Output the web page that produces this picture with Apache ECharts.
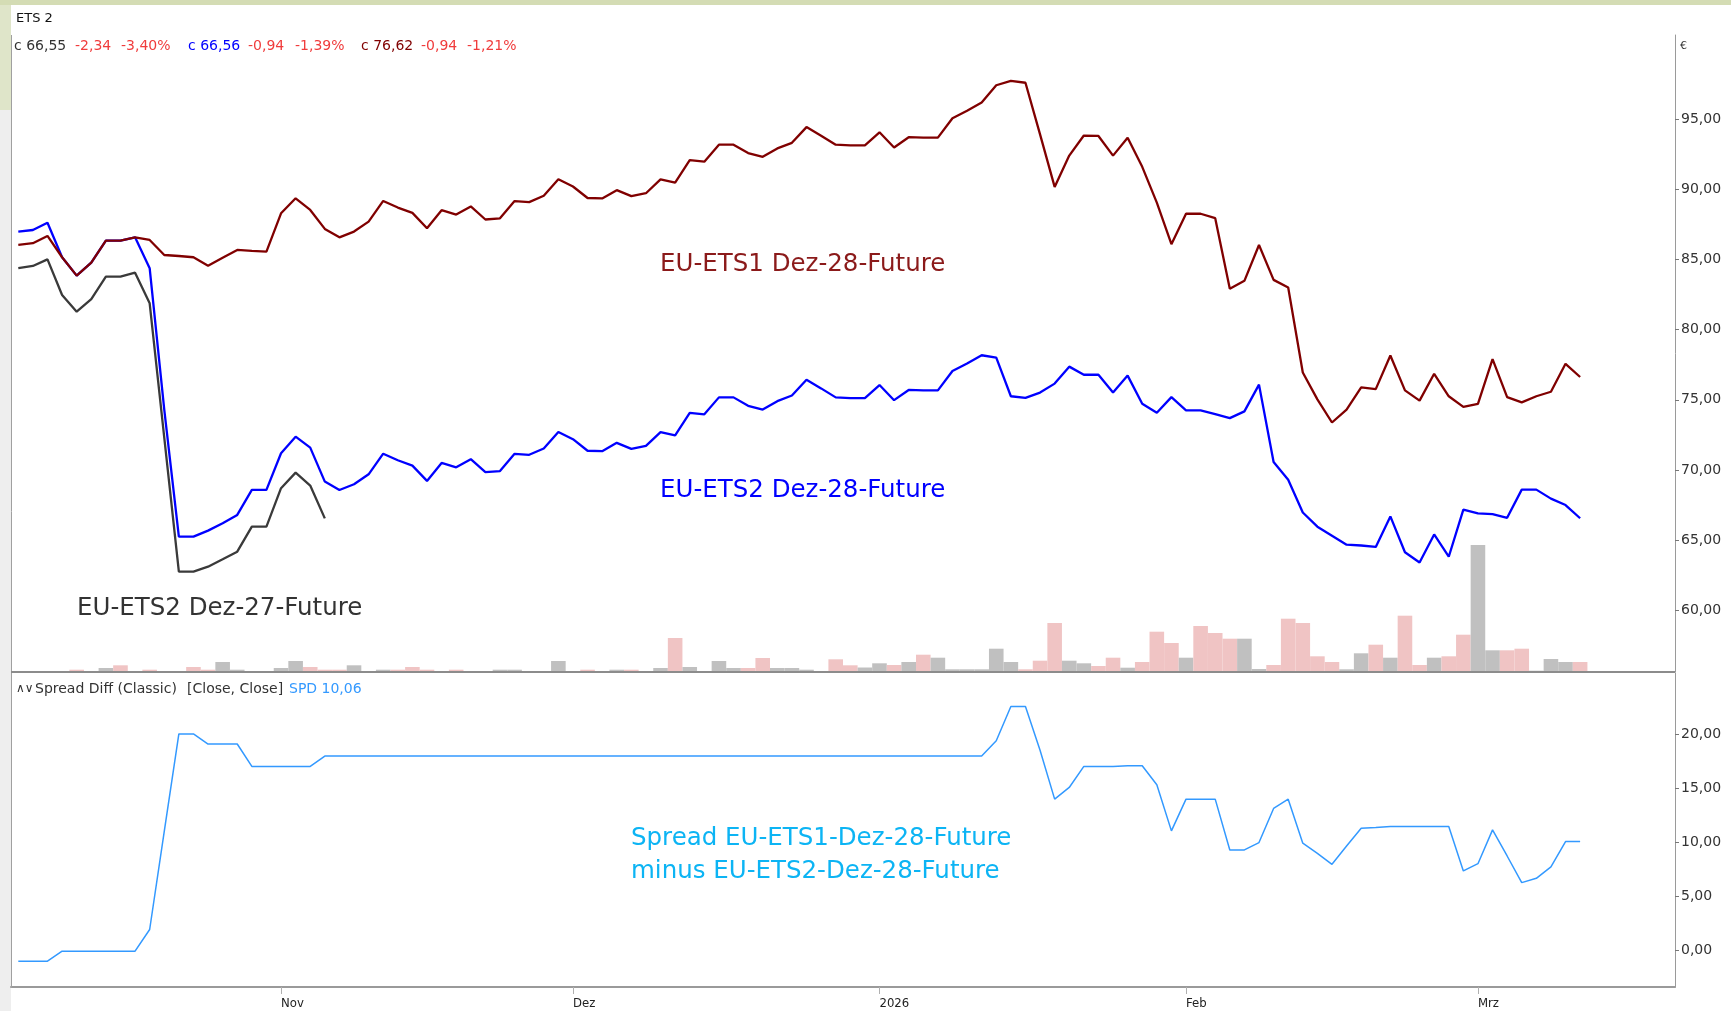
<!DOCTYPE html>
<html><head><meta charset="utf-8">
<script src="https://cdn.jsdelivr.net/npm/echarts@6/dist/echarts.min.js"></script>
<style>html,body{margin:0;padding:0;background:#fff;overflow:hidden}#c{width:1731px;height:1011px;}</style>
</head><body><div id="c"></div>
<script>
// ---- trading days (category axis) ----
const dates = [
'2025-10-08','2025-10-09','2025-10-10','2025-10-13','2025-10-14','2025-10-15','2025-10-16','2025-10-17','2025-10-20','2025-10-21',
'2025-10-22','2025-10-23','2025-10-24','2025-10-27','2025-10-28','2025-10-29','2025-10-30','2025-10-31','2025-11-03','2025-11-04',
'2025-11-05','2025-11-06','2025-11-07','2025-11-10','2025-11-11','2025-11-12','2025-11-13','2025-11-14','2025-11-17','2025-11-18',
'2025-11-19','2025-11-20','2025-11-21','2025-11-24','2025-11-25','2025-11-26','2025-11-27','2025-11-28','2025-12-01','2025-12-02',
'2025-12-03','2025-12-04','2025-12-05','2025-12-08','2025-12-09','2025-12-10','2025-12-11','2025-12-12','2025-12-15','2025-12-16',
'2025-12-17','2025-12-18','2025-12-19','2025-12-22','2025-12-23','2025-12-24','2025-12-29','2025-12-30','2025-12-31','2026-01-02',
'2026-01-05','2026-01-06','2026-01-07','2026-01-08','2026-01-09','2026-01-12','2026-01-13','2026-01-14','2026-01-15','2026-01-16',
'2026-01-19','2026-01-20','2026-01-21','2026-01-22','2026-01-23','2026-01-26','2026-01-27','2026-01-28','2026-01-29','2026-01-30',
'2026-02-02','2026-02-03','2026-02-04','2026-02-05','2026-02-06','2026-02-09','2026-02-10','2026-02-11','2026-02-12','2026-02-13',
'2026-02-16','2026-02-17','2026-02-18','2026-02-19','2026-02-20','2026-02-23','2026-02-24','2026-02-25','2026-02-26','2026-02-27',
'2026-03-02','2026-03-03','2026-03-04','2026-03-05','2026-03-06','2026-03-09','2026-03-10','2026-03-11','2026-03-12','2026-03-13',
'2026-03-16','2026-03-17','2026-03-18','2026-03-19'];

// EU-ETS1 Dez-28-Future (dark red)
const ets1Dec28 = [
86.03,86.15,86.67,85.15,83.84,84.77,86.33,86.33,86.57,86.38,
85.31,85.24,85.15,84.55,85.12,85.67,85.60,85.55,88.28,89.35,
88.52,87.17,86.57,86.98,87.69,89.16,88.69,88.31,87.22,88.50,
88.19,88.77,87.84,87.92,89.15,89.08,89.53,90.70,90.19,89.37,
89.34,89.93,89.50,89.71,90.70,90.46,92.07,91.96,93.17,93.17,
92.57,92.30,92.90,93.30,94.42,93.81,93.17,93.12,93.12,94.05,
92.97,93.70,93.67,93.67,95.05,95.58,96.17,97.40,97.71,97.58,
93.90,90.16,92.39,93.82,93.79,92.39,93.66,91.59,89.04,86.08,
88.25,88.25,87.93,82.90,83.47,86.02,83.54,83.00,76.94,75.03,
73.38,74.30,75.89,75.76,78.15,75.67,74.94,76.85,75.25,74.49,
74.71,77.90,75.19,74.81,75.25,75.57,77.56,76.62];

// EU-ETS2 Dez-28-Future (blue)
const ets2Dec28 = [
86.97,87.09,87.61,85.15,83.84,84.77,86.33,86.33,86.57,84.37,
74.30,65.25,65.25,65.68,66.20,66.80,68.58,68.58,71.19,72.37,
71.59,69.17,68.57,68.98,69.69,71.16,70.69,70.31,69.22,70.50,
70.19,70.77,69.84,69.92,71.15,71.08,71.53,72.70,72.19,71.37,
71.34,71.93,71.50,71.71,72.70,72.46,74.07,73.96,75.17,75.17,
74.57,74.30,74.90,75.30,76.42,75.81,75.17,75.12,75.12,76.05,
74.97,75.70,75.67,75.67,77.05,77.58,78.17,78.00,75.25,75.13,
75.51,76.15,77.36,76.78,76.78,75.51,76.72,74.71,74.08,75.19,
74.24,74.24,73.98,73.69,74.17,76.08,70.57,69.30,66.97,65.96,
65.32,64.68,64.62,64.52,66.69,64.14,63.41,65.41,63.82,67.17,
66.91,66.85,66.59,68.60,68.60,67.96,67.50,66.56];

// EU-ETS2 Dez-27-Future (dark grey), data ends 2025-11-06
const ets2Dec27 = [
84.37,84.53,85.00,82.46,81.27,82.16,83.77,83.77,84.05,81.87,
72.30,62.76,62.76,63.11,63.64,64.18,65.96,65.96,68.70,69.81,
68.89,66.55];

// Spread EU-ETS1 Dez-28 minus EU-ETS2 Dez-28
const spread = [
-0.99,-0.99,-0.99,-0.06,-0.06,-0.06,-0.06,-0.06,-0.06,1.94,
11.00,20.00,20.00,19.07,19.07,19.07,17.00,17.00,17.00,17.00,
17.00,17.96,17.96,17.96,17.96,17.96,17.96,17.96,17.96,17.96,
17.96,17.96,17.96,17.96,17.96,17.96,17.96,17.96,17.96,17.96,
17.96,17.96,17.96,17.96,17.96,17.96,17.96,17.96,17.96,17.96,
17.96,17.96,17.96,17.96,17.96,17.96,17.96,17.96,17.96,17.96,
17.96,17.96,17.96,17.96,17.96,17.96,17.96,19.38,22.53,22.53,
18.50,13.98,15.06,17.00,17.00,17.00,17.07,17.07,15.31,11.05,
13.98,13.98,13.98,9.29,9.29,9.97,13.12,13.98,9.91,8.98,
7.96,9.66,11.30,11.36,11.45,11.45,11.45,11.45,11.45,7.35,
8.02,11.14,8.73,6.27,6.67,7.72,10.06,10.06];

// Volume (relative units) and up(1)/down(0) flag per day
const volume = [
0,0,0,0,2.3,0,4,6.7,0,2.3,
0,0,5,2.3,10,2.3,0,0,4,11,
5,2.3,2.3,6.7,0,2.3,2.3,5,2.3,0,
2.3,0,0,2.3,2.3,0,0,11,0,2.3,
0,2.3,2.3,0,4,34,5,0,11,4,
4,14,4,4,2.3,0,12.7,6.7,4.5,8.7,
7,10,17.3,14.3,2.7,2.7,2.7,23.3,10,2.7,
11.3,49,11.3,8.7,6,14.3,4.3,10,40.3,29,
14.3,46,39,33.3,33.3,3,7,53.3,49,15.7,
10,2.7,18.7,27.3,14.3,56.3,7,14.3,15.7,37.3,
127,21.7,21.7,23.3,1.3,13,10,10];
const volumeUp = [
0,0,0,0,0,0,1,0,0,0,
0,0,0,0,1,1,0,0,1,1,
0,0,0,1,0,1,0,0,0,0,
0,0,0,1,1,0,0,1,0,0,
0,1,0,0,1,0,1,0,1,1,
0,0,1,1,1,0,0,0,1,1,
0,1,0,1,1,1,1,1,1,0,
0,0,1,1,0,0,1,0,0,0,
1,0,0,0,1,1,0,0,0,0,
0,1,1,0,1,0,0,1,0,0,
1,1,0,0,1,1,1,0];

const priceTicks = [60,65,70,75,80,85,90,95];
const spreadTicks = [0,5,10,15,20];
const monthNames = ['Jan','Feb','Mrz','Apr','Mai','Jun','Jul','Aug','Sep','Okt','Nov','Dez'];

function isMonthStart(i){ return i>0 && i<dates.length && dates[i].slice(5,7)!==dates[i-1].slice(5,7); }
function monthLabel(i){ const m=+dates[i].slice(5,7); return m===1 ? dates[i].slice(0,4) : monthNames[m-1]; }
const fmt = v => Number(v).toFixed(2).replace('.', ',');

const FONT = '"DejaVu Sans", Verdana, sans-serif';
const AXC = '#9a9a9a';
const GL = 11, GW = 1664;

const chart = echarts.init(document.getElementById('c'), null, {renderer:'canvas'});

function txt(t, x, y, size, color, extra){
  return Object.assign({type:'text', z:50, silent:true, style:{text:t, x:x, y:y, fill:color,
    font: size+'px '+FONT, verticalAlign:'middle', align:'left'}}, extra||{});
}

const header = [
  ['c 66,55', 14, '#333333'], ['-2,34', 75, '#f03c3c'], ['-3,40%', 121, '#f03c3c'],
  ['c 66,56', 188, '#0000ff'], ['-0,94', 248, '#f03c3c'], ['-1,39%', 295, '#f03c3c'],
  ['c 76,62', 361, '#800000'], ['-0,94', 421, '#f03c3c'], ['-1,21%', 467, '#f03c3c']
];

const option = {
  animation: false,
  backgroundColor: '#ffffff',
  grid: [
    {left: GL, width: GW, top: 35, height: 637},
    {left: GL, width: GW, top: 472, height: 200},
    {left: GL, width: GW, top: 673, height: 314}
  ],
  xAxis: [
    {type:'category', gridIndex:0, data:dates, show:false},
    {type:'category', gridIndex:1, data:dates, show:false},
    {type:'category', gridIndex:2, data:dates, position:'bottom',
     axisLine:{show:true, onZero:false, lineStyle:{color:AXC, width:2}},
     axisTick:{show:true, alignWithLabel:true, length:7, interval:(i)=>isMonthStart(i), lineStyle:{color:'#b0b0b0'}},
     axisLabel:{show:true, interval:(i)=>isMonthStart(i), formatter:(v,i)=>monthLabel(i), align:'left', margin:10,
       fontFamily:'"DejaVu Sans Condensed", "Liberation Sans Narrow", "DejaVu Sans", sans-serif', fontSize:13, color:'#222'},
     splitLine:{show:false}}
  ],
  yAxis: [
    {type:'value', gridIndex:0, position:'right', min:55.61, max:100.98,
     axisLine:{show:true, lineStyle:{color:AXC, width:1}},
     axisTick:{show:true, customValues:priceTicks, length:4, lineStyle:{color:'#777'}},
     axisLabel:{show:true, customValues:priceTicks, formatter:fmt, margin:6, fontFamily:FONT, fontSize:14, color:'#333'},
     splitLine:{show:false}},
    {type:'value', gridIndex:1, min:0, max:200, show:false, splitLine:{show:false}},
    {type:'value', gridIndex:2, position:'right', min:-3.37, max:25.63,
     axisLine:{show:true, lineStyle:{color:AXC, width:1}},
     axisTick:{show:true, customValues:spreadTicks, length:4, lineStyle:{color:'#777'}},
     axisLabel:{show:true, customValues:spreadTicks, formatter:fmt, margin:6, fontFamily:FONT, fontSize:14, color:'#333'},
     splitLine:{show:false}}
  ],
  series: [
    {type:'bar', xAxisIndex:1, yAxisIndex:1, barCategoryGap:'0%', silent:true, z:1,
     data: volume.map((v,i)=>({value:v, itemStyle:{color: volumeUp[i] ? '#c0c0c0' : '#f0c4c4'}}))},
    {type:'line', name:'EU-ETS2 Dez-27-Future', xAxisIndex:0, yAxisIndex:0, data:ets2Dec27, symbol:'none', z:3,
     lineStyle:{color:'#3a3a3a', width:2.3}, itemStyle:{color:'#3a3a3a'}},
    {type:'line', name:'EU-ETS2 Dez-28-Future', xAxisIndex:0, yAxisIndex:0, data:ets2Dec28, symbol:'none', z:4,
     lineStyle:{color:'#0000ff', width:2.3}, itemStyle:{color:'#0000ff'}},
    {type:'line', name:'EU-ETS1 Dez-28-Future', xAxisIndex:0, yAxisIndex:0, data:ets1Dec28, symbol:'none', z:5,
     lineStyle:{color:'#800000', width:2.3}, itemStyle:{color:'#800000'}},
    {type:'line', name:'Spread', xAxisIndex:2, yAxisIndex:2, data:spread, symbol:'none', z:5,
     lineStyle:{color:'#3399ff', width:1.5}, itemStyle:{color:'#3399ff'}}
  ],
  graphic: [
    {type:'rect', z:0, silent:true, shape:{x:0,y:0,width:1731,height:5}, style:{fill:'#d4dcb4'}},
    {type:'rect', z:0, silent:true, shape:{x:0,y:5,width:11,height:1006}, style:{fill:'#eeeeee'}},
    {type:'rect', z:0, silent:true, shape:{x:0,y:5,width:11,height:105}, style:{fill:'#dfe5c9'}},
    {type:'line', z:60, silent:true, shape:{x1:11.5,y1:35,x2:11.5,y2:988}, style:{stroke:'#a0a0a0', lineWidth:1}},
    {type:'line', z:60, silent:true, shape:{x1:11,y1:672,x2:1675,y2:672}, style:{stroke:'#8c8c8c', lineWidth:2}},
    txt('ETS 2', 16, 19, 13, '#111111'),
    ...header.map(h => txt(h[0], h[1], 46, 14, h[2])),
    txt('€', 1680, 46, 11, '#333333'),
    txt('EU-ETS1 Dez-28-Future', 660, 265, 24.5, '#8b1a1a'),
    txt('EU-ETS2 Dez-28-Future', 660, 491, 24.5, '#0000ff'),
    txt('EU-ETS2 Dez-27-Future', 77, 609, 24.5, '#333333'),
    txt('Spread EU-ETS1-Dez-28-Future', 631, 839, 24.5, '#0cb4f4'),
    txt('minus EU-ETS2-Dez-28-Future', 631, 872, 24.5, '#0cb4f4'),
    txt('∧∨', 16, 689, 12, '#333333'),
    txt('Spread Diff (Classic)', 35, 689, 14, '#333333'),
    txt('[Close, Close]', 187, 689, 14, '#333333'),
    txt('SPD 10,06', 289, 689, 14, '#3399ff')
  ]
};
chart.setOption(option);
</script>
</body></html>
